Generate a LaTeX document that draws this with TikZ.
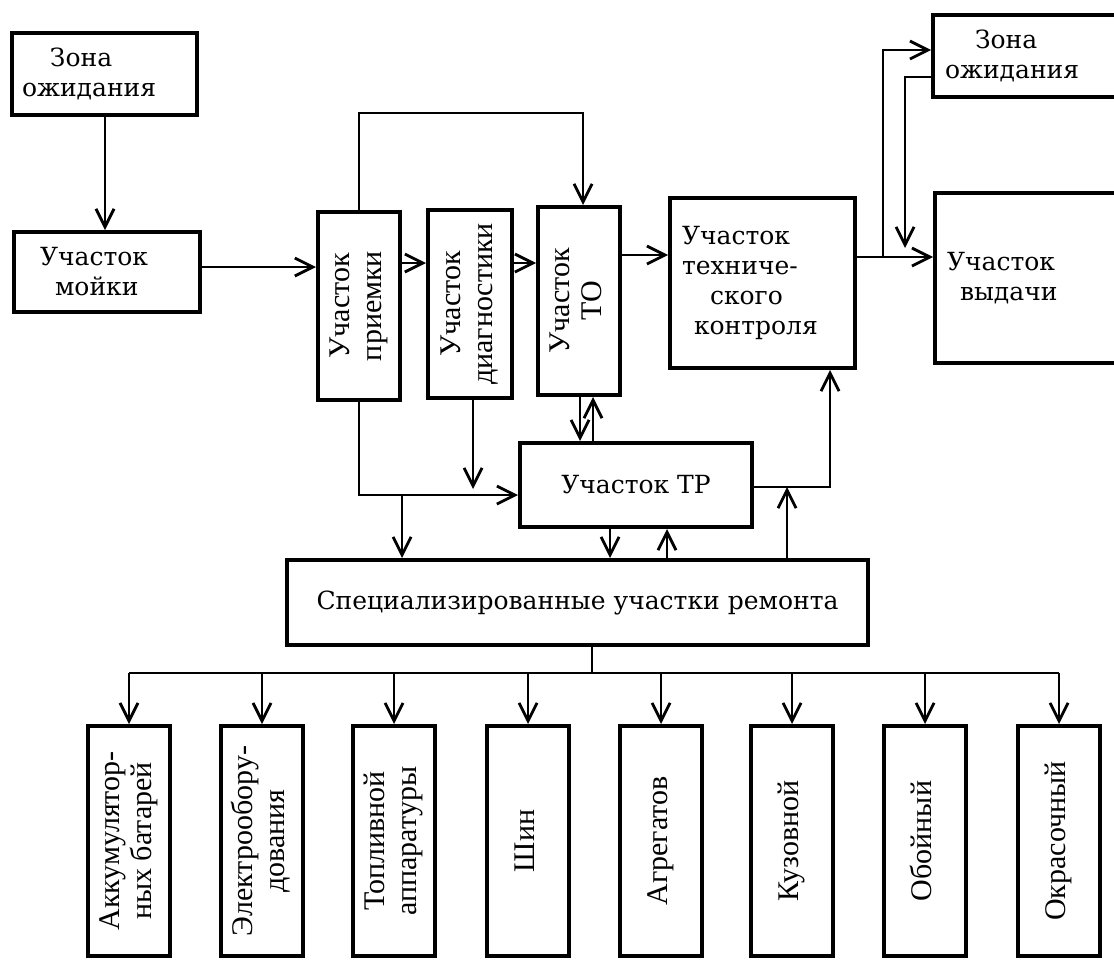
\documentclass[tikz,border=0pt]{standalone}
\usepackage{fontspec}
\usepackage{graphicx}
\setmainfont{Liberation Serif}
\newfontfamily\wideserif{DejaVu Serif}
\usetikzlibrary{arrows.meta}

% upright text turned to read from bottom to top
\newcommand{\vlabel}[1]{\rotatebox{90}{\begin{tabular}{@{}c@{}}#1\end{tabular}}}

\begin{document}
\begin{tikzpicture}[x=1pt, y=-1pt,
    box/.style={draw, line width=4pt, inner sep=4pt, font=\wideserif\fontsize{25}{30}\selectfont},
    vbox/.style={draw, line width=4pt, inner sep=0pt, font=\fontsize{30}{32}\selectfont},
    arr/.style={line width=2.8pt, -{Straight Barb[length=18pt, width=18pt]}},
    link/.style={line width=2.8pt}]
        \useasboundingbox (0,0) rectangle (1114,961);
        \clip (0,0) rectangle (1114,961);

        % Nodes
        \node[box, minimum width=185pt, minimum height=82pt, text width=165pt, align=left] (zonaL) at (104.5,74) {\hspace*{28pt}Зона\\ожидания};
        \node[box, minimum width=186pt, minimum height=80pt, text width=134pt, align=left] (mojka) at (107,272) {Участок\\\hspace*{15pt}мойки};
        \node[vbox, minimum width=82pt, minimum height=188pt] (priemka) at (359,306) {\vlabel{Участок\\приемки}};
        \node[vbox, minimum width=84pt, minimum height=188pt] (diagn) at (470,304) {\vlabel{Участок\\диагностики}};
        \node[vbox, minimum width=82pt, minimum height=188pt] (to) at (579,301) {\vlabel{Участок\\ТО}};
        \node[box, minimum width=185pt, minimum height=170pt, text width=161pt, align=left] (kontrol) at (762.5,283) {Участок\\техниче-\\\hspace*{28pt}ского\\\hspace*{12pt}контроля};
        \node[box, minimum width=197pt, minimum height=82pt, text width=173pt, align=left] (zonaR) at (1031.5,56) {\hspace*{30pt}Зона\\ожидания};
        \node[box, minimum width=195pt, minimum height=170pt, text width=171pt, align=left] (vydacha) at (1032.5,278) {Участок\\\hspace*{13pt}выдачи};
        \node[box, minimum width=232pt, minimum height=84pt] (tr) at (636,485) {Участок ТР};
        \node[box, minimum width=581pt, minimum height=85pt] (spec) at (577.5,602.5) {Специализированные участки ремонта};

        \node[vbox, minimum width=82pt, minimum height=230pt] (b1) at (129,841) {\vlabel{Аккумулятор-\\ных батарей}};
        \node[vbox, minimum width=82pt, minimum height=230pt] (b2) at (262,841) {\vlabel{Электрообору-\\дования}};
        \node[vbox, minimum width=82pt, minimum height=230pt] (b3) at (394,841) {\vlabel{Топливной\\аппаратуры}};
        \node[vbox, minimum width=82pt, minimum height=230pt] (b4) at (528,841) {\vlabel{Шин}};
        \node[vbox, minimum width=82pt, minimum height=230pt] (b5) at (661,841) {\vlabel{Агрегатов}};
        \node[vbox, minimum width=82pt, minimum height=230pt] (b6) at (792,841) {\vlabel{Кузовной}};
        \node[vbox, minimum width=82pt, minimum height=230pt] (b7) at (925,841) {\vlabel{Обойный}};
        \node[vbox, minimum width=82pt, minimum height=230pt] (b8) at (1059,841) {\vlabel{Окрасочный}};

        % Free ends and forks
        \coordinate (fork) at (883,257);
        \coordinate (back) at (905,248);
        \coordinate (tap) at (402,495);
        \coordinate (stop) at (473,489);
        \coordinate (bus) at (592,673);

        % Edges
        \draw[arr] (zonaL.south -| 105,0) -- (mojka.north -| 105,0);
        \draw[arr] ([yshift=5pt]mojka.east) -- ([yshift=5pt]mojka.east -| priemka.west);
        \draw[arr] ([yshift=43pt]priemka.east) -- ([yshift=43pt]priemka.east -| diagn.west);
        \draw[arr] ([yshift=41pt]diagn.east) -- ([yshift=41pt]diagn.east -| to.west);
        \draw[arr] ([yshift=46pt]to.east) -- ([yshift=46pt]to.east -| kontrol.west);
        \draw[arr] ([yshift=26pt]kontrol.east) -- ([yshift=26pt]kontrol.east -| vydacha.west);
        \draw[arr] (priemka.north) -- ++(0,-97) -| ([xshift=4pt]to.north);
        \draw[arr] (fork) |- ([yshift=6pt]zonaR.west);
        \draw[arr] ([yshift=-21pt]zonaR.west) -| (back);

        \draw[arr] (priemka.south) |- ([yshift=-10pt]tr.west);
        \draw[arr] (tap) -- (tap |- spec.north);
        \draw[arr] ([xshift=3pt]diagn.south) -- (stop);
        \draw[arr] ([xshift=1pt]to.south) -- ([xshift=1pt]to.south |- tr.north);
        \draw[arr] ([xshift=14pt]to.south |- tr.north) -- ([xshift=14pt]to.south);
        \draw[arr] ([xshift=-26pt]tr.south) -- ([xshift=-26pt]tr.south |- spec.north);
        \draw[arr] ([xshift=31pt]tr.south |- spec.north) -- ([xshift=31pt]tr.south);
        \draw[arr] ([yshift=-2pt]tr.east) -| ([xshift=67.5pt]kontrol.south);
        \draw[arr] ([xshift=209.5pt]spec.north) -- ([xshift=209.5pt, yshift=-2pt]spec.north |- tr.east);

        % Distribution to the specialised sections
        \draw[link] (spec.south -| bus) -- (bus);
        \draw[link] (b1.north |- bus) -- (b8.north |- bus);
        \draw[arr] (b1.north |- bus) -- (b1.north);
        \draw[arr] (b2.north |- bus) -- (b2.north);
        \draw[arr] (b3.north |- bus) -- (b3.north);
        \draw[arr] (b4.north |- bus) -- (b4.north);
        \draw[arr] (b5.north |- bus) -- (b5.north);
        \draw[arr] (b6.north |- bus) -- (b6.north);
        \draw[arr] (b7.north |- bus) -- (b7.north);
        \draw[arr] (b8.north |- bus) -- (b8.north);
    \end{tikzpicture}
\end{document}
